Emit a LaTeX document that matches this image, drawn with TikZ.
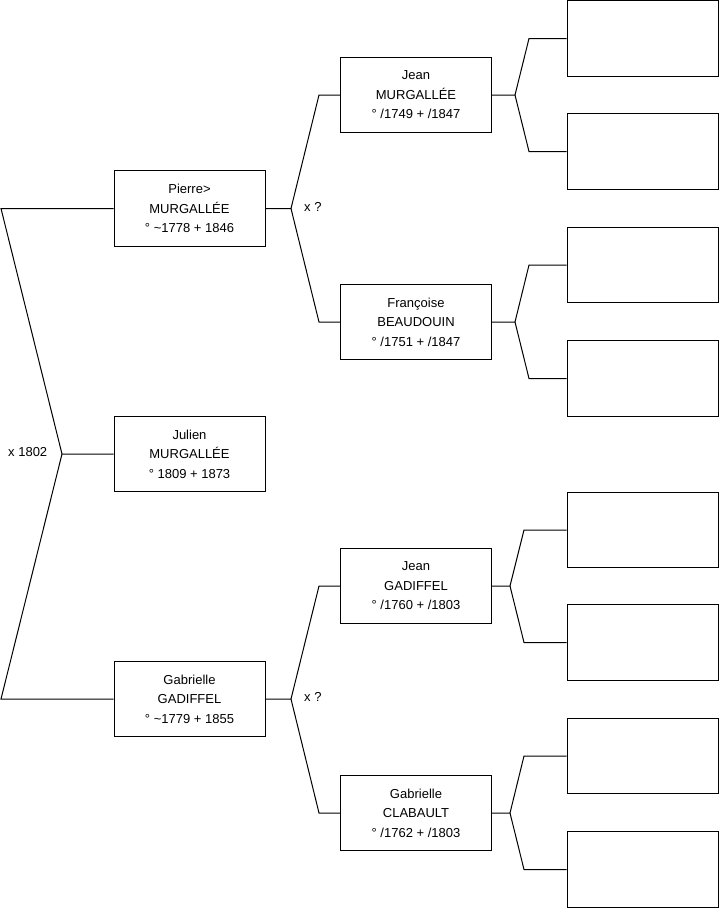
\documentclass[tikz,border=0pt]{standalone}
\usepackage{fontspec}
\setmainfont{Liberation Sans}
\usetikzlibrary{positioning}

\tikzset{
  person/.style={draw, line width=1pt, minimum width=151pt, minimum height=75.5pt,
    inner sep=0pt, align=center, font=\fontsize{13}{19.5}\selectfont},
  link/.style={draw, line width=1pt},
  union/.style={anchor=west, inner sep=0pt, font=\fontsize{13}{15}\selectfont}
}

\begin{document}
\begin{tikzpicture}[x=1pt, y=-1pt]
  \useasboundingbox (0,0) rectangle (719,908);

  % generation 1
  \node[person] (julien)   at (189.5,454)   {Julien\\MURGALLÉE\\° 1809 + 1873};
  \node[person] (pierre)   at (189.5,208.5) {Pierre>\\MURGALLÉE\\° \textasciitilde1778 + 1846};
  \node[person] (gabriel)  at (189.5,699)   {Gabrielle\\GADIFFEL\\° \textasciitilde1779 + 1855};

  % generation 2
  \node[person] (jeanM)    at (416,95)  {Jean\\MURGALLÉE\\° /1749 + /1847};
  \node[person] (francoise) at (416,322) {Françoise\\BEAUDOUIN\\° /1751 + /1847};
  \node[person] (jeanG)    at (416,586) {Jean\\GADIFFEL\\° /1760 + /1803};
  \node[person] (gabrielC) at (416,813) {Gabrielle\\CLABAULT\\° /1762 + /1803};

  % generation 3 (empty)
  \node[person] (p1) at (642.5,38.5)  {};
  \node[person] (p2) at (642.5,151.5) {};
  \node[person] (p3) at (642.5,265)   {};
  \node[person] (p4) at (642.5,378.5) {};
  \node[person] (p5) at (642.5,530)   {};
  \node[person] (p6) at (642.5,642.5) {};
  \node[person] (p7) at (642.5,756)   {};
  \node[person] (p8) at (642.5,869.5) {};

  % forks
  \coordinate (fJ)  at (62,454);
  \coordinate (fJa) at (1,208.5);
  \coordinate (fJb) at (1,699);
  \draw[link] (julien.west) -- (fJ) -- (fJa) -- (pierre.west);
  \draw[link] (fJ) -- (fJb) -- (gabriel.west);
  \node[union] (uJ) at (8,452) {x 1802};

  \coordinate (fP)  at (291,208.5);
  \coordinate (fPa) at (319,95);
  \coordinate (fPb) at (319,322);
  \draw[link] (pierre.east) -- (fP) -- (fPa) -- (jeanM.west);
  \draw[link] (fP) -- (fPb) -- (francoise.west);
  \node[union] (uP) at (304,207) {x ?};

  \coordinate (fG)  at (291,699);
  \coordinate (fGa) at (319,586);
  \coordinate (fGb) at (319,813);
  \draw[link] (gabriel.east) -- (fG) -- (fGa) -- (jeanG.west);
  \draw[link] (fG) -- (fGb) -- (gabrielC.west);
  \node[union] (uG) at (304,697) {x ?};

  \coordinate (fJM)  at (515,95);
  \coordinate (fJMa) at (529,38.5);
  \coordinate (fJMb) at (529,151.5);
  \draw[link] (jeanM.east) -- (fJM) -- (fJMa) -- (p1.west);
  \draw[link] (fJM) -- (fJMb) -- (p2.west);

  \coordinate (fF)  at (515,322);
  \coordinate (fFa) at (529,265);
  \coordinate (fFb) at (529,378.5);
  \draw[link] (francoise.east) -- (fF) -- (fFa) -- (p3.west);
  \draw[link] (fF) -- (fFb) -- (p4.west);

  \coordinate (fJG)  at (510,586);
  \coordinate (fJGa) at (524,530);
  \coordinate (fJGb) at (524,642.5);
  \draw[link] (jeanG.east) -- (fJG) -- (fJGa) -- (p5.west);
  \draw[link] (fJG) -- (fJGb) -- (p6.west);

  \coordinate (fGC)  at (510,813);
  \coordinate (fGCa) at (524,756);
  \coordinate (fGCb) at (524,869.5);
  \draw[link] (gabrielC.east) -- (fGC) -- (fGCa) -- (p7.west);
  \draw[link] (fGC) -- (fGCb) -- (p8.west);
\end{tikzpicture}
\end{document}
